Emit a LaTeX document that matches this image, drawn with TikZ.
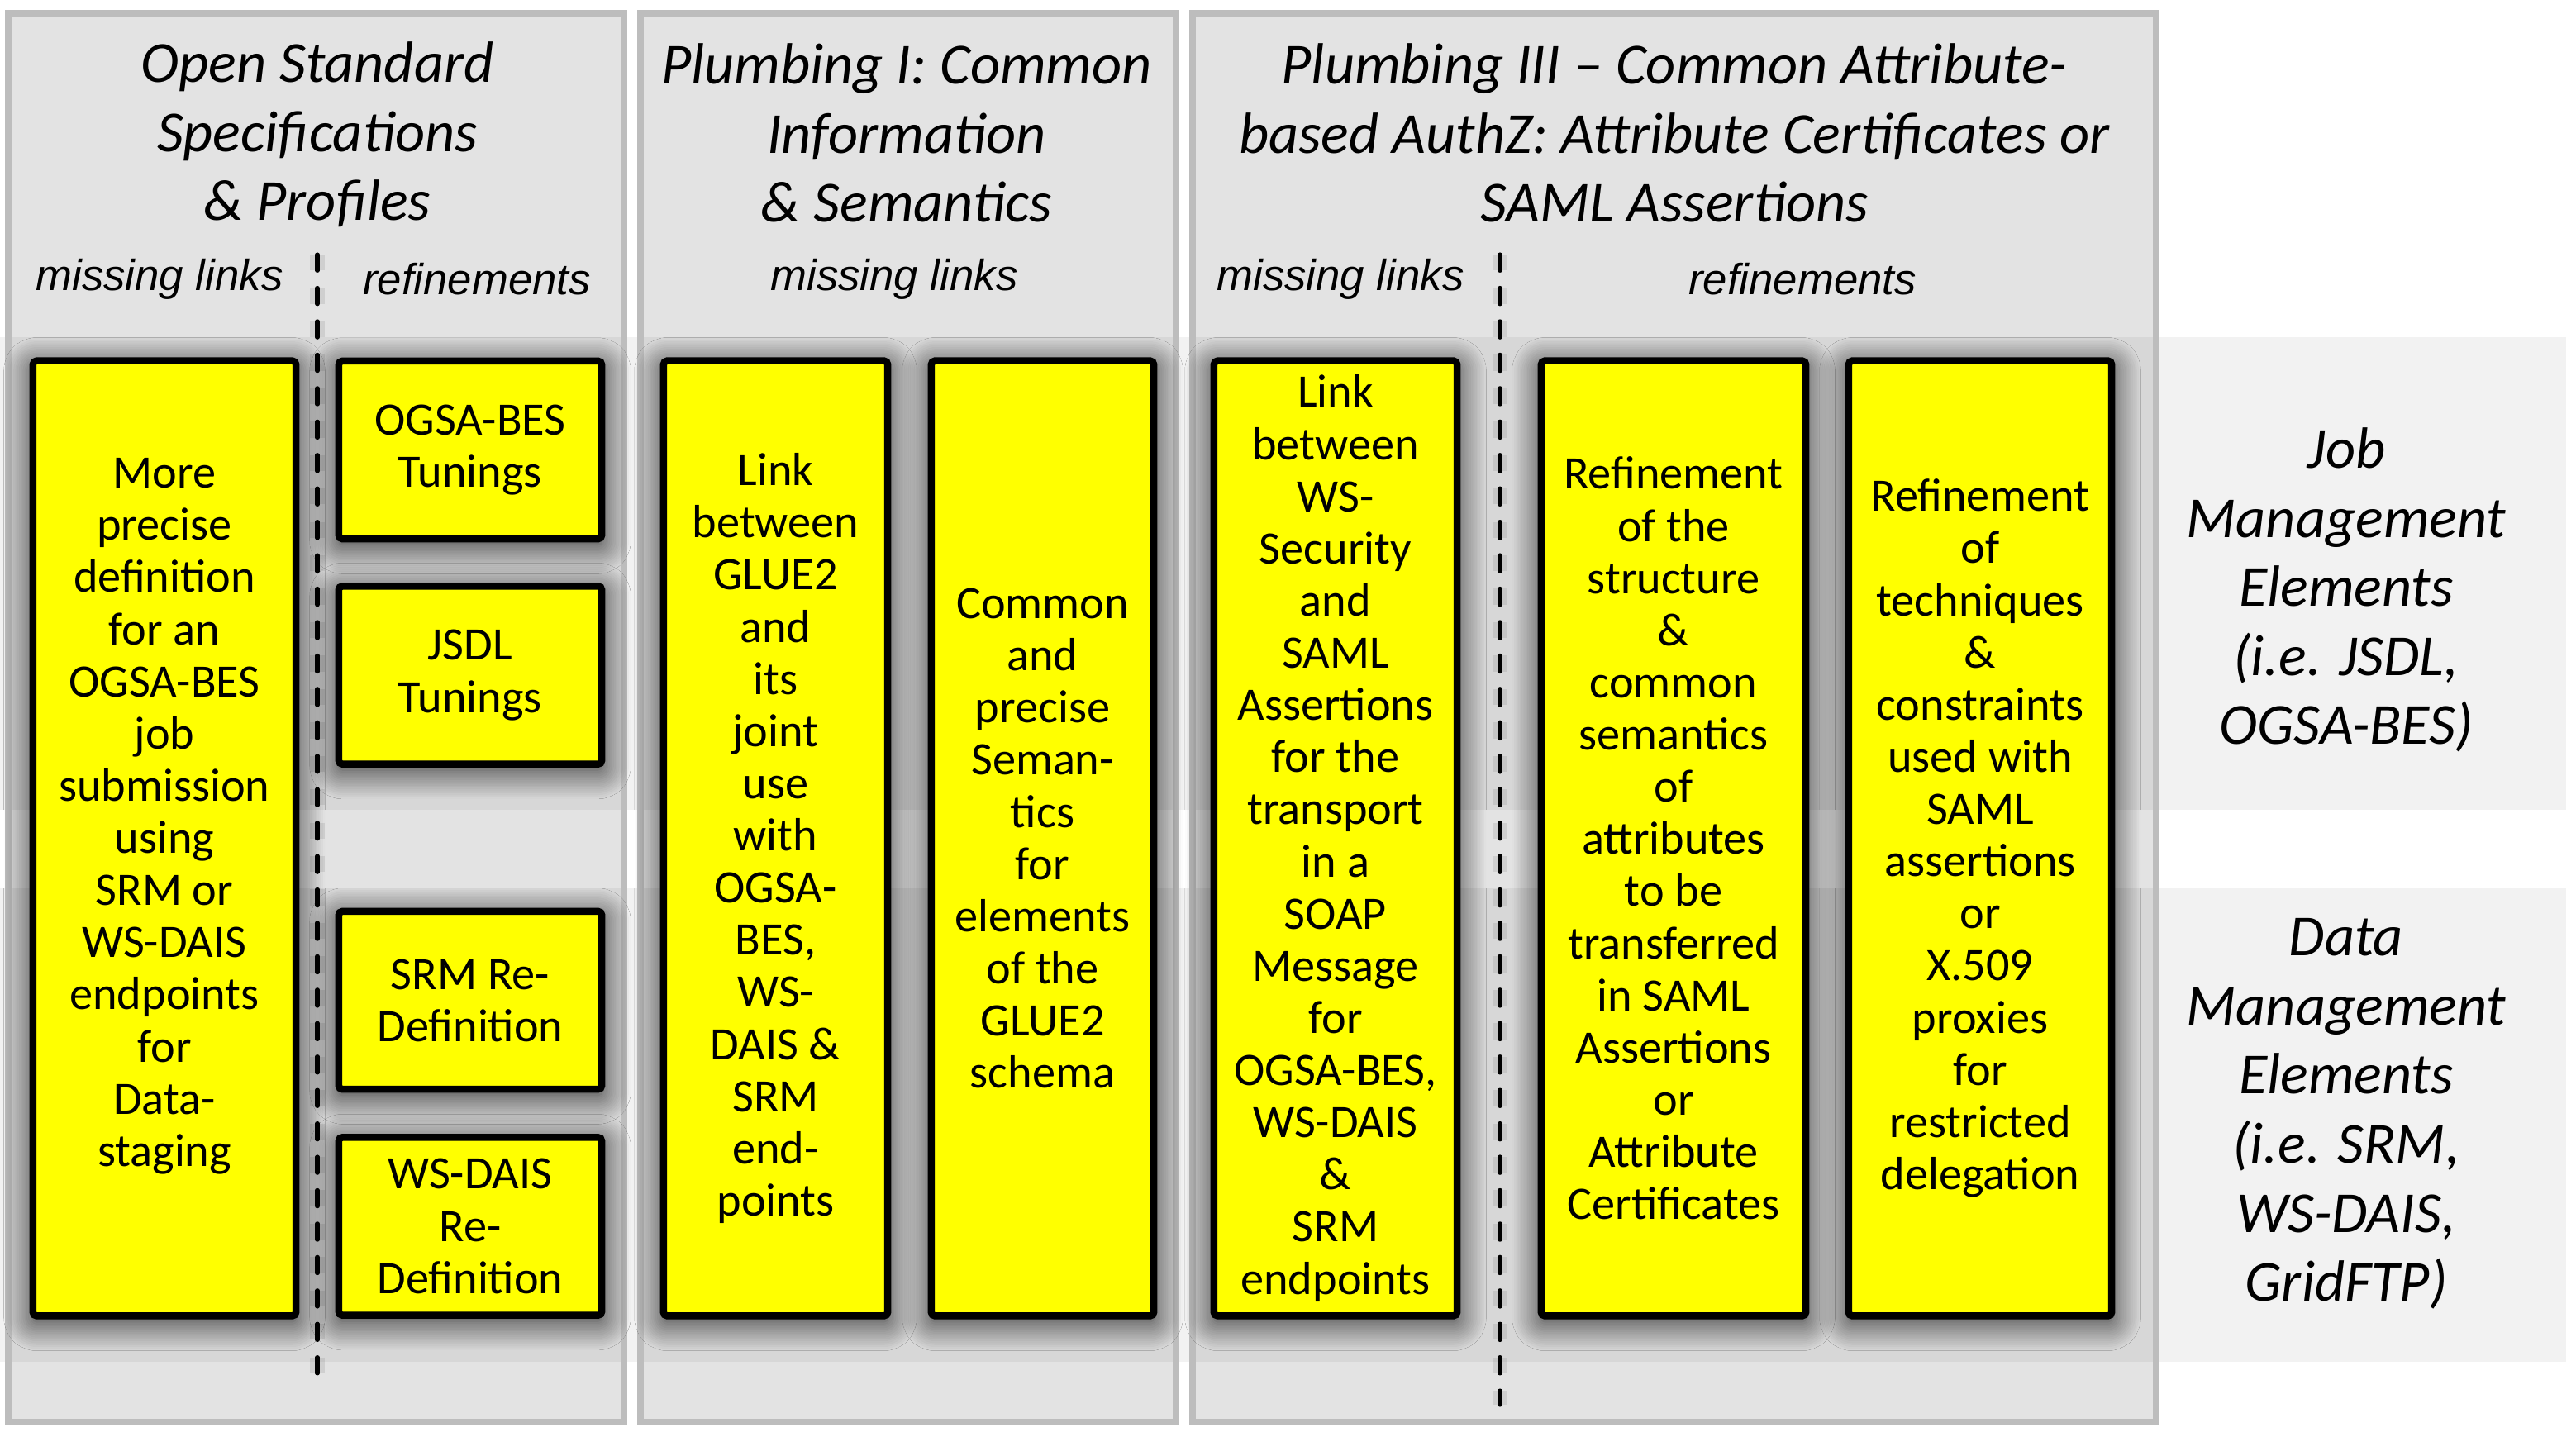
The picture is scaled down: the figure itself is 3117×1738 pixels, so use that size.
\documentclass[tikz,border=0pt]{standalone}
\usepackage{fontspec}
\setmainfont{Carlito}
\newfontfamily\arialfont{Liberation Sans}
\usepackage{xcolor}
\usepackage{tikz}
\usetikzlibrary{shadows.blur}

\definecolor{panelline}{HTML}{BDBDBD}
\definecolor{bandgray}{HTML}{F2F2F2}
\definecolor{boxyellow}{HTML}{FFFF00}

\begin{document}
\begin{tikzpicture}[x=0.01cm, y=-0.01cm,
  panelbox/.style={draw=panelline, line width=2pt, fill=black, fill opacity=0.11, draw opacity=1},
  rowband/.style={fill=bandgray},
  itembox/.style={draw=black, line width=2.4pt, rounded corners=1.2pt, fill=boxyellow, align=center, inner sep=0pt,
    font=\fontsize{16}{17.95}\selectfont,
    blur shadow={shadow xshift=0pt, shadow yshift=-2pt, shadow blur radius=10pt, shadow blur steps=16, shadow opacity=85}},
  tallbox/.style={itembox, minimum height=11.55cm},
  tunebox/.style={itembox, minimum width=3.18cm, minimum height=2.15cm},
  headtext/.style={align=center, font=\fontsize{20}{23.75}\selectfont\itshape},
  subhead/.style={font=\arialfont\fontsize{15}{18}\selectfont\itshape},
  sidetext/.style={align=center, font=\fontsize{20}{23.75}\selectfont\itshape},
  divider/.style={line width=1.45pt, line cap=round, dash pattern=on 5.5pt off 6pt,
    preaction={draw=gray, line width=5pt, opacity=0.2, dash pattern=on 5.5pt off 6pt}}
]
\useasboundingbox (0,0) rectangle (3117,1738);

% row bands
\path[rowband] (0,408) rectangle (3105,980);
\path[rowband] (0,1075) rectangle (3105,1648);

% column panels
\path[panelbox] (10,16) rectangle (755,1720);
\path[panelbox] (775,16) rectangle (1423,1720);
\path[panelbox] (1443,16) rectangle (2608,1720);

% headings
\node[headtext] (h1) at (384,163) {Open Standard\\Specifications\\\& Profiles};
\node[headtext] (h2) at (1097,161) {Plumbing I: Common\\Information\\\& Semantics};
\node[headtext] (h3) at (2026,161) {Plumbing III – Common Attribute-\\based AuthZ: Attribute Certificates or\\SAML Assertions};

\node[subhead] (m1) at (193,338) {missing links};
\node[subhead] (r1) at (577,338) {refinements};
\node[subhead] (m2) at (1082,338) {missing links};
\node[subhead] (m3) at (1622,338) {missing links};
\node[subhead] (r3) at (2181,338) {refinements};

% dashed separators
\coordinate (d1a) at (384,308);
\coordinate (d1b) at (384,1670);
\coordinate (d3a) at (1815,308);
\coordinate (d3b) at (1815,1700);
\draw[divider] (d1a) -- (d1b);
\draw[divider] (d3a) -- (d3b);

% panel 1
\node[tallbox, minimum width=3.18cm] (defn) at (199,1014.5) {More\\precise\\definition\\for an\\OGSA-BES\\job\\submission\\using\\SRM or\\WS-DAIS\\endpoints\\for\\Data-\\staging\\~};
\node[tunebox] (bestune) at (569,544.5) {OGSA-BES\\Tunings};
\node[tunebox] (jsdltune) at (569,817) {JSDL\\Tunings};
\node[tunebox] (srmdef) at (569,1210.5) {SRM Re-\\Definition};
\node[tunebox] (daisdef) at (569,1484) {WS-DAIS\\Re-\\Definition};

% panel 2
\node[tallbox, minimum width=2.71cm] (gluelink) at (938.5,1014.5) {Link\\between\\GLUE2\\and\\its\\joint\\use\\with\\OGSA-\\BES,\\WS-\\DAIS \&\\SRM\\end-\\points};
\node[tallbox, minimum width=2.69cm] (gluesem) at (1261.5,1014.5) {Common\\and\\precise\\Seman-\\tics\\for\\elements\\of the\\GLUE2\\schema};

% panel 3
\node[tallbox, minimum width=2.94cm] (samllink) at (1616,1014.5) {Link\\between\\WS-\\Security\\and\\SAML\\Assertions\\for the\\transport\\in a\\SOAP\\Message\\for\\OGSA-BES,\\WS-DAIS\\\&\\SRM\\endpoints};
\node[tallbox, minimum width=3.20cm] (attrref) at (2025,1014.5) {Refinement\\of the\\structure\\\&\\common\\semantics\\of\\attributes\\to be\\transferred\\in SAML\\Assertions\\or\\Attribute\\Certificates};
\node[tallbox, minimum width=3.18cm] (techref) at (2396,1014.5) {Refinement\\of\\techniques\\\&\\constraints\\used with\\SAML\\assertions\\or\\X.509\\proxies\\for\\restricted\\delegation};

% row labels
\node[sidetext] (joblbl) at (2839,714) {Job\\Management\\Elements\\(i.e. JSDL,\\OGSA-BES)};
\node[sidetext] (datalbl) at (2839,1348) {Data\\Management\\Elements\\(i.e. SRM,\\WS-DAIS,\\GridFTP)};
\end{tikzpicture}
\end{document}
